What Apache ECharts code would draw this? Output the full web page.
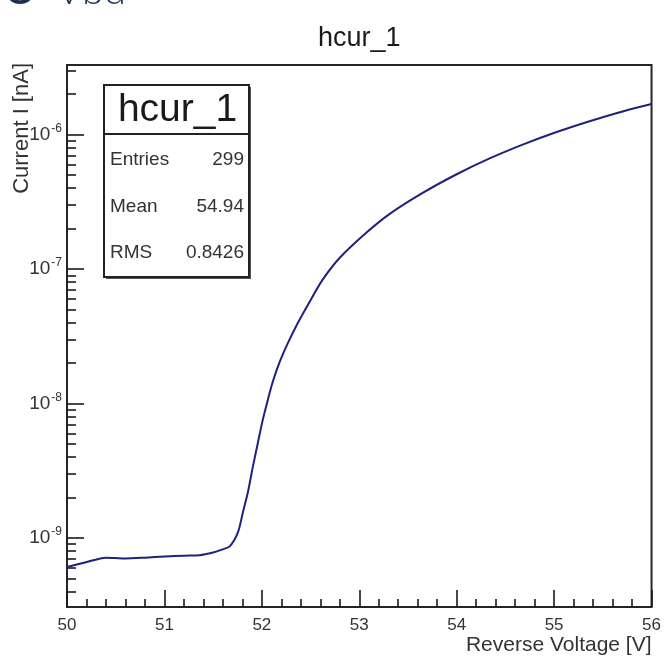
<!DOCTYPE html>
<html>
<head>
<meta charset="utf-8">
<script src="https://cdn.jsdelivr.net/npm/echarts@6/dist/echarts.min.js"></script>
<style>
  html, body { margin: 0; padding: 0; background: #ffffff; }
  #chart { width: 664px; height: 656px; }
</style>
</head>
<body>
<div id="chart"></div>
<script>
// Reverse-bias I-V scan of one channel (hcur_1)
const voltage = [
  50.0, 50.195, 50.4, 50.595, 50.8, 51.005, 51.2, 51.36, 51.5, 51.59,
  51.672, 51.754, 51.805, 51.856, 51.908, 51.959, 52.01, 52.062, 52.113, 52.185,
  52.267, 52.369, 52.523, 52.626, 52.8, 53.077, 53.313, 53.651, 54.0, 54.338,
  54.677, 55.026, 55.364, 55.703, 56.0
];
const current = [
  6.1e-10, 6.6e-10, 7.15e-10, 7.05e-10, 7.15e-10, 7.3e-10, 7.4e-10, 7.45e-10, 7.8e-10, 8.2e-10,
  8.7e-10, 1.1e-9, 1.55e-9, 2.18e-9, 3.4e-9, 5.1e-9, 7.6e-9, 1.07e-8, 1.46e-8, 2.06e-8,
  2.82e-8, 3.98e-8, 6.3e-8, 8.4e-8, 1.215e-7, 1.88e-7, 2.58e-7, 3.69e-7, 5.08e-7, 6.66e-7,
  8.44e-7, 1.047e-6, 1.26e-6, 1.49e-6, 1.69e-6
];

// Axis ranges and tick positions
const xRange = [50, 56];
const yRange = [3.07e-10, 3.3e-6];
const yMajorTicks = [1e-9, 1e-8, 1e-7, 1e-6];
const yMinorTicks = [
  4e-10, 5e-10, 6e-10, 7e-10, 8e-10, 9e-10,
  2e-9, 3e-9, 4e-9, 5e-9, 6e-9, 7e-9, 8e-9, 9e-9,
  2e-8, 3e-8, 4e-8, 5e-8, 6e-8, 7e-8, 8e-8, 9e-8,
  2e-7, 3e-7, 4e-7, 5e-7, 6e-7, 7e-7, 8e-7, 9e-7,
  2e-6, 3e-6
];

// Statistics box contents
const histName = 'hcur_1';
const statLabels = ['Entries', 'Mean', 'RMS'];
const statValues = ['299', '54.94', '0.8426'];

const FONT = 'Liberation Sans, Arial, Helvetica, sans-serif';
const INK = '#1a1a1a';

const grid = { left: 67, top: 65, width: 585, height: 542 };

const chart = echarts.init(document.getElementById('chart'), null, { renderer: 'canvas' });

const statGraphics = [];
const box = { x: 104, y: 85, w: 145, h: 192 };
statGraphics.push({
  type: 'rect',
  shape: { x: box.x + 2, y: box.y + 2, width: box.w, height: box.h },
  style: { fill: '#555555' }, z: 10
});
statGraphics.push({
  type: 'rect',
  shape: { x: box.x, y: box.y, width: box.w, height: box.h },
  style: { fill: '#ffffff', stroke: '#222222', lineWidth: 2 }, z: 11
});
statGraphics.push({
  type: 'line',
  shape: { x1: box.x, y1: box.y + 49, x2: box.x + box.w, y2: box.y + 49 },
  style: { stroke: '#222222', lineWidth: 2 }, z: 12
});
statGraphics.push({
  type: 'text', x: box.x + box.w / 2 + 1, y: box.y + 25, z: 12,
  style: { text: histName, font: '39px ' + FONT, fill: INK, align: 'center', verticalAlign: 'middle' }
});
statLabels.forEach((lab, i) => {
  const cy = box.y + 75 + i * 46.5;
  statGraphics.push({
    type: 'text', x: box.x + 6, y: cy, z: 12,
    style: { text: lab, font: '19px ' + FONT, fill: '#333', align: 'left', verticalAlign: 'middle' }
  });
  statGraphics.push({
    type: 'text', x: box.x + box.w - 5, y: cy, z: 12,
    style: { text: statValues[i], font: '19px ' + FONT, fill: '#333', align: 'right', verticalAlign: 'middle' }
  });
});

const option = {
  backgroundColor: '#ffffff',
  animation: false,
  title: {
    text: histName,
    left: 313,
    top: 20,
    textStyle: { fontFamily: FONT, fontSize: 27, fontWeight: 'normal', color: INK }
  },
  grid: {
    left: grid.left, top: grid.top, width: grid.width, height: grid.height,
    show: true, borderColor: '#262626', borderWidth: 2, backgroundColor: '#ffffff'
  },
  xAxis: {
    type: 'value',
    min: xRange[0], max: xRange[1], interval: 1,
    axisLine: { show: false },
    splitLine: { show: false },
    axisTick: { show: true, inside: true, length: 17, lineStyle: { color: INK, width: 1.6 } },
    minorTick: { show: true, splitNumber: 5, length: 8, lineStyle: { color: INK, width: 1.6 } },
    axisLabel: { margin: 10, fontFamily: FONT, fontSize: 17, color: '#333' },
    name: 'Reverse Voltage [V]',
    nameLocation: 'end',
    nameGap: 0,
    nameTextStyle: { fontFamily: FONT, fontSize: 21, color: '#333', align: 'right', verticalAlign: 'top', padding: [28, 0, 0, 0] }
  },
  yAxis: [
    {
      type: 'log', logBase: 10,
      min: yRange[0], max: yRange[1],
      axisLine: { show: false },
      splitLine: { show: false },
      axisTick: { show: true, inside: true, length: 17, customValues: yMajorTicks, lineStyle: { color: INK, width: 1.6 } },
      axisLabel: {
        customValues: yMajorTicks,
        margin: 5,
        formatter: v => '{b|10}{s|' + Math.round(Math.log10(v)) + '}',
        rich: {
          b: { fontFamily: FONT, fontSize: 19, color: '#333' },
          s: { fontFamily: FONT, fontSize: 12, color: '#333', verticalAlign: 'bottom', padding: [0, 0, 12, 1] }
        }
      }
    },
    {
      type: 'log', logBase: 10,
      min: yRange[0], max: yRange[1],
      position: 'left',
      axisLine: { show: false },
      splitLine: { show: false },
      axisLabel: { show: false },
      axisTick: { show: true, inside: true, length: 9, customValues: yMinorTicks, lineStyle: { color: INK, width: 1.6 } }
    }
  ],
  series: [
    {
      type: 'line',
      yAxisIndex: 0,
      data: voltage.map((v, i) => [v, current[i]]),
      showSymbol: false,
      smooth: 0.3,
      lineStyle: { color: '#20207e', width: 2 },
      z: 5
    }
  ],
  graphic: [
    {
      type: 'text', x: 4, y: -9,
      style: { text: 'O', font: '500 40px Lato, sans-serif', fill: '#1c3152', verticalAlign: 'middle' }
    },
    {
      type: 'text', x: 56, y: -9,
      style: { text: 'Vbd', font: '300 40px Lato, sans-serif', fill: '#1c3152', verticalAlign: 'middle' }
    },
    {
      type: 'text', x: 22, y: 63, rotation: Math.PI / 2,
      style: { text: 'Current I [nA]', font: '22px ' + FONT, fill: '#333', align: 'right', verticalAlign: 'middle' }
    }
  ].concat(statGraphics)
};

chart.setOption(option);
</script>
</body>
</html>
